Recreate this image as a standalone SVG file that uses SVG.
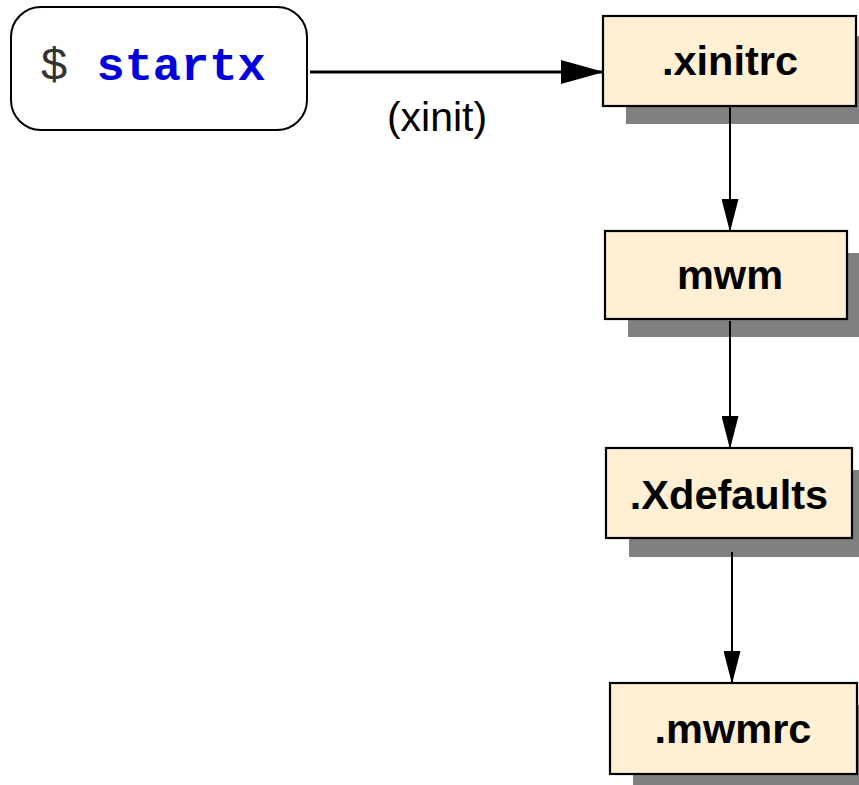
<svg xmlns="http://www.w3.org/2000/svg" width="859" height="785" viewBox="0 0 859 785">
<style>
.shadow{fill:#808080;}
.box{fill:#fff0d4;stroke:#000;stroke-width:2.2;}
.lbl{font-family:"Liberation Sans",Arial,sans-serif;font-weight:bold;font-size:41.5px;fill:#000;text-anchor:middle;}
.conn{stroke:#000;fill:none;}
</style>
<defs>
<marker id="arr" markerUnits="userSpaceOnUse" markerWidth="33" markerHeight="17" refX="32" refY="8.5" viewBox="0 0 33 17" orient="auto">
<path d="M0,0 L33,8.5 L0,17 z" fill="#000"/>
</marker>
<marker id="arrBig" markerUnits="userSpaceOnUse" markerWidth="43" markerHeight="24" refX="41" refY="12" viewBox="0 0 43 24" orient="auto">
<path d="M0,0 L43,12 L0,24 z" fill="#000"/>
</marker>
</defs>
<rect width="859" height="785" fill="#fff"/>
<g id="startx">
<rect x="11" y="7" width="296" height="123" rx="30" ry="30" fill="#fff" stroke="#000" stroke-width="2"/>
<text x="40" y="80" font-family="'Liberation Mono','Courier New',monospace" font-size="47px"><tspan fill="#333">$ </tspan><tspan fill="#0000dd" font-weight="bold">startx</tspan></text>
</g>
<g id="xinitrc">
<rect class="shadow" x="626" y="36" width="240" height="88"/>
<rect class="box" x="603" y="16" width="253" height="90"/>
<text class="lbl" x="730" y="75">.xinitrc</text>
</g>
<g id="mwm">
<rect class="shadow" x="628" y="253" width="240" height="84"/>
<rect class="box" x="605" y="231" width="242" height="88"/>
<text class="lbl" x="730" y="289">mwm</text>
</g>
<g id="xdefaults">
<rect class="shadow" x="629" y="470" width="240" height="87"/>
<rect class="box" x="606" y="448" width="246" height="90"/>
<text class="lbl" x="729" y="509">.Xdefaults</text>
</g>
<g id="mwmrc">
<rect class="shadow" x="633" y="705" width="240" height="90"/>
<rect class="box" x="610" y="683" width="247" height="91"/>
<text class="lbl" x="733" y="743">.mwmrc</text>
</g>
<g id="connectors">
<line class="conn" x1="310" y1="72" x2="602" y2="72" stroke-width="3.2" marker-end="url(#arrBig)"/>
<text x="437" y="131" font-family="'Liberation Sans',Arial,sans-serif" font-size="41px" text-anchor="middle" fill="#000">(xinit)</text>
<line class="conn" x1="730" y1="106" x2="730" y2="231" stroke-width="2" marker-end="url(#arr)"/>
<line class="conn" x1="730" y1="321" x2="730" y2="448" stroke-width="2" marker-end="url(#arr)"/>
<line class="conn" x1="732" y1="552" x2="732" y2="683" stroke-width="2" marker-end="url(#arr)"/>
</g>
</svg>
